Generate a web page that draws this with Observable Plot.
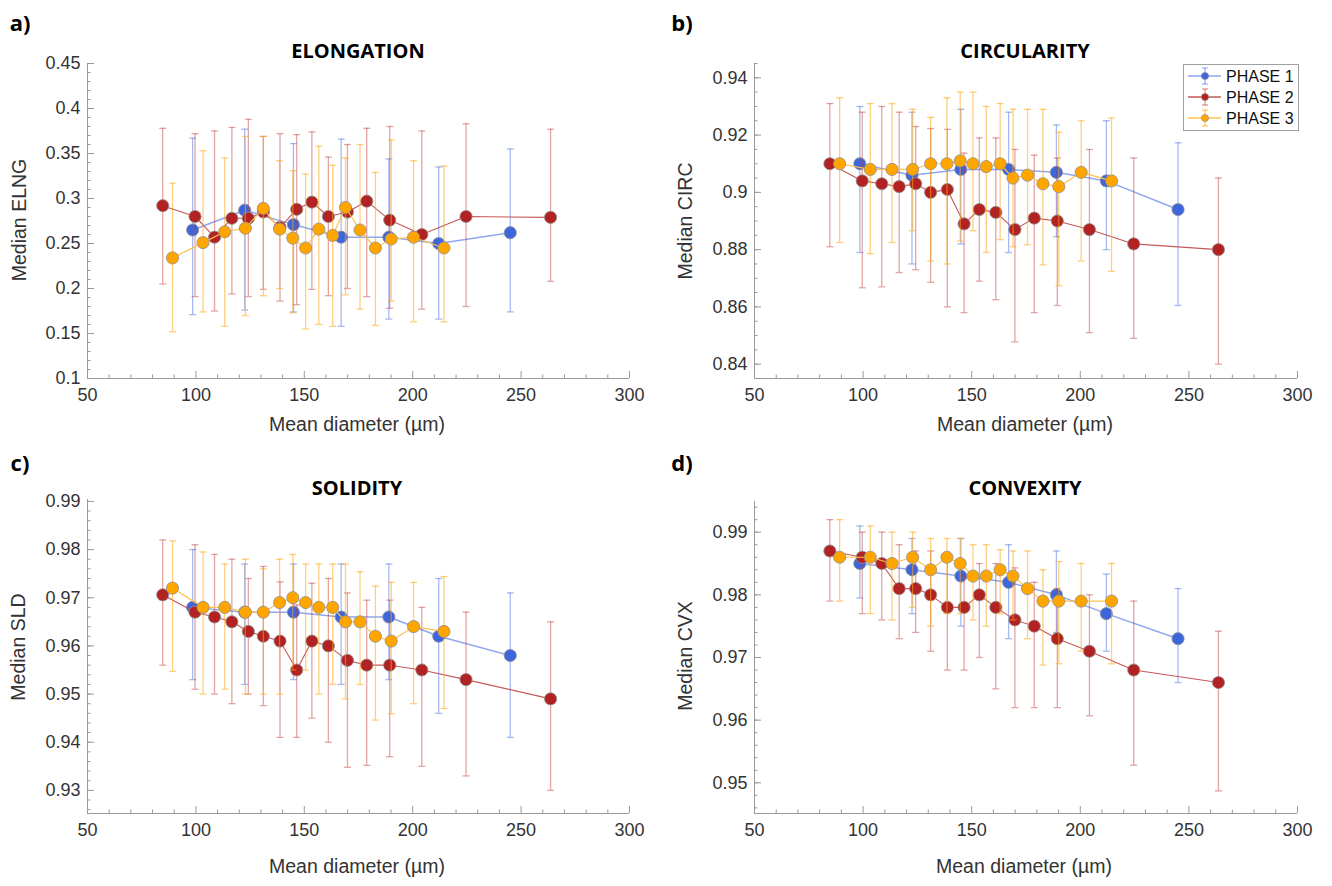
<!DOCTYPE html>
<html><head><meta charset="utf-8">
<script src="https://cdn.jsdelivr.net/npm/d3@7"></script>
<script src="https://cdn.jsdelivr.net/npm/@observablehq/plot@0.6"></script>
<style>
body{margin:0;background:#fff;}
#root{position:relative;width:1332px;height:886px;overflow:hidden;font-family:"Liberation Sans",Arial,sans-serif;}
.abs{position:absolute;white-space:nowrap;transform:translate(-50%,-50%);line-height:1;}
.letter{font-family:"Open Sans",sans-serif;font-weight:700;font-size:22px;color:#000;}
.title{font-family:"Open Sans",sans-serif;font-weight:700;font-size:20px;color:#000;}
.xlab{font-size:19.5px;color:#333;}
.ylab{font-size:19.5px;color:#333;transform:translate(-50%,-50%) rotate(-90deg);}
.panel{position:absolute;}
</style></head><body><div id="root"></div>
<script>
// ---------- data ----------
const phases = ["PHASE 1", "PHASE 2", "PHASE 3"];
const xPhase1 = [98.5, 122.5, 145, 167, 189, 212, 245];
const xPhase2 = [84.7, 99.6, 108.6, 116.6, 124.2, 131.1, 138.8, 146.5, 153.5, 161.1, 169.9, 178.8, 189.4, 204.2, 224.6, 263.6];
const xPhase3 = [89.2, 103.3, 113.3, 122.8, 131.1, 138.6, 144.7, 150.6, 156.7, 163.1, 169.0, 175.7, 182.8, 190.1, 200.4, 214.4];

// ELONGATION
const elng1 = [0.265, 0.287, 0.271, 0.257, 0.257, 0.250, 0.262];
const elng1Lo = [0.171, 0.176, 0.174, 0.158, 0.166, 0.166, 0.174];
const elng1Hi = [0.367, 0.377, 0.361, 0.366, 0.344, 0.335, 0.355];
const elng2 = [0.292, 0.280, 0.257, 0.278, 0.278, 0.285, 0.268, 0.288, 0.296, 0.280, 0.285, 0.297, 0.276, 0.260, 0.280, 0.279];
const elng2Lo = [0.205, 0.191, 0.175, 0.194, 0.191, 0.199, 0.186, 0.182, 0.199, 0.192, 0.200, 0.191, 0.178, 0.177, 0.180, 0.208];
const elng2Hi = [0.378, 0.372, 0.375, 0.379, 0.388, 0.369, 0.372, 0.371, 0.374, 0.346, 0.360, 0.378, 0.380, 0.375, 0.383, 0.377];
const elng3 = [0.234, 0.251, 0.263, 0.267, 0.289, 0.266, 0.256, 0.245, 0.266, 0.259, 0.290, 0.265, 0.245, 0.255, 0.257, 0.245];
const elng3Lo = [0.152, 0.174, 0.158, 0.170, 0.192, 0.200, 0.173, 0.155, 0.160, 0.158, 0.193, 0.177, 0.159, 0.186, 0.163, 0.163];
const elng3Hi = [0.317, 0.353, 0.345, 0.369, 0.369, 0.342, 0.331, 0.327, 0.358, 0.337, 0.345, 0.360, 0.329, 0.365, 0.342, 0.336];

// CIRCULARITY
const circ1 = [0.910, 0.906, 0.908, 0.908, 0.907, 0.904, 0.894];
const circ1Lo = [0.879, 0.875, 0.882, 0.879, 0.8845, 0.880, 0.8605];
const circ1Hi = [0.930, 0.928, 0.929, 0.928, 0.9235, 0.925, 0.9173];
const circ2 = [0.910, 0.904, 0.903, 0.902, 0.903, 0.900, 0.901, 0.889, 0.894, 0.893, 0.887, 0.891, 0.890, 0.887, 0.882, 0.880];
const circ2Lo = [0.881, 0.8667, 0.867, 0.872, 0.873, 0.8686, 0.860, 0.858, 0.869, 0.8625, 0.8478, 0.858, 0.8605, 0.851, 0.849, 0.840];
const circ2Hi = [0.931, 0.928, 0.930, 0.928, 0.923, 0.9223, 0.922, 0.9137, 0.919, 0.919, 0.915, 0.913, 0.912, 0.915, 0.912, 0.905];
const circ3 = [0.910, 0.908, 0.908, 0.908, 0.910, 0.910, 0.911, 0.910, 0.909, 0.910, 0.905, 0.906, 0.903, 0.902, 0.907, 0.904];
const circ3Lo = [0.8825, 0.8786, 0.8825, 0.8866, 0.876, 0.875, 0.883, 0.8866, 0.879, 0.8835, 0.881, 0.8817, 0.8747, 0.8674, 0.876, 0.8724];
const circ3Hi = [0.933, 0.931, 0.931, 0.929, 0.9262, 0.933, 0.935, 0.935, 0.930, 0.931, 0.929, 0.929, 0.929, 0.921, 0.925, 0.926];

// SOLIDITY
const sld1 = [0.968, 0.967, 0.967, 0.966, 0.966, 0.962, 0.958];
const sld1Lo = [0.953, 0.952, 0.953, 0.952, 0.953, 0.946, 0.941];
const sld1Hi = [0.980, 0.977, 0.977, 0.977, 0.977, 0.974, 0.971];
const sld2 = [0.9706, 0.967, 0.966, 0.965, 0.963, 0.962, 0.961, 0.955, 0.961, 0.960, 0.957, 0.956, 0.956, 0.955, 0.953, 0.949];
const sld2Lo = [0.956, 0.951, 0.950, 0.948, 0.950, 0.9476, 0.941, 0.941, 0.945, 0.940, 0.9348, 0.9352, 0.937, 0.935, 0.933, 0.930];
const sld2Hi = [0.982, 0.981, 0.979, 0.978, 0.974, 0.9765, 0.9733, 0.9685, 0.973, 0.974, 0.971, 0.9695, 0.9695, 0.968, 0.967, 0.965];
const sld3 = [0.972, 0.968, 0.968, 0.967, 0.967, 0.969, 0.970, 0.969, 0.968, 0.968, 0.965, 0.965, 0.962, 0.961, 0.964, 0.963];
const sld3Lo = [0.9547, 0.950, 0.951, 0.950, 0.950, 0.950, 0.955, 0.955, 0.950, 0.952, 0.949, 0.952, 0.9446, 0.9459, 0.948, 0.947];
const sld3Hi = [0.9818, 0.9795, 0.977, 0.978, 0.976, 0.978, 0.979, 0.977, 0.977, 0.977, 0.977, 0.9754, 0.9724, 0.9732, 0.9732, 0.9744];

// CONVEXITY
const cvx1 = [0.985, 0.984, 0.983, 0.982, 0.980, 0.977, 0.973];
const cvx1Lo = [0.9795, 0.977, 0.975, 0.973, 0.974, 0.971, 0.966];
const cvx1Hi = [0.991, 0.989, 0.989, 0.988, 0.987, 0.9833, 0.981];
const cvx2 = [0.987, 0.986, 0.985, 0.981, 0.981, 0.980, 0.978, 0.978, 0.980, 0.978, 0.976, 0.975, 0.973, 0.971, 0.968, 0.966];
const cvx2Lo = [0.979, 0.977, 0.976, 0.973, 0.974, 0.971, 0.968, 0.968, 0.970, 0.965, 0.962, 0.962, 0.962, 0.9607, 0.9528, 0.9487];
const cvx2Hi = [0.992, 0.990, 0.990, 0.988, 0.987, 0.987, 0.986, 0.983, 0.985, 0.985, 0.9843, 0.982, 0.981, 0.980, 0.979, 0.9742];
const cvx3 = [0.986, 0.986, 0.985, 0.986, 0.984, 0.986, 0.985, 0.983, 0.983, 0.984, 0.983, 0.981, 0.979, 0.979, 0.979, 0.979];
const cvx3Lo = [0.979, 0.977, 0.976, 0.978, 0.975, 0.977, 0.977, 0.976, 0.975, 0.977, 0.976, 0.973, 0.9688, 0.969, 0.971, 0.969];
const cvx3Hi = [0.992, 0.991, 0.990, 0.990, 0.989, 0.989, 0.989, 0.988, 0.988, 0.9872, 0.987, 0.987, 0.984, 0.9853, 0.985, 0.985];

// tick labels
const xTicks = [50, 100, 150, 200, 250, 300];
const elngTicks = [0.1, 0.15, 0.2, 0.25, 0.3, 0.35, 0.4, 0.45];
const circTicks = [0.84, 0.86, 0.88, 0.9, 0.92, 0.94];
const sldTicks = [0.93, 0.94, 0.95, 0.96, 0.97, 0.98, 0.99];
const cvxTicks = [0.95, 0.96, 0.97, 0.98, 0.99];

// ---------- styling ----------
const styles = [
  {dot: "#3e66dc", line: "#8ea7ee", lineW: 1.5, bar: "#4f78e6", barOp: 0.5},
  {dot: "#b22222", line: "#c45858", lineW: 1.1, bar: "#c03636", barOp: 0.45},
  {dot: "#ffa500", line: "#ffc24d", lineW: 1.2, bar: "#ffa616", barOp: 0.55}
];
const axisColor = "#9a9a9a";
const capSymbol = {draw(ctx, size) { const r = Math.sqrt(size / Math.PI); ctx.moveTo(-r, 0); ctx.lineTo(r, 0); }};
const fmt = d => String(+d.toFixed(3));
const range = (a, b, step) => d3.range(Math.round(a / step), Math.round(b / step) + 1).map(i => +(i * step).toFixed(4));

function rowsOf(xs, med, lo, hi, phase) {
  return xs.map((x, i) => ({phase, x, y: med[i], lo: lo[i], hi: hi[i]}));
}

const panels = [
  {key: "a", title: "ELONGATION", ylabel: "Median ELNG", left: 0, top: 0, width: 660, height: 440,
   mL: 87, mR: 31, mT: 63, mB: 62, yDomain: [0.1, 0.45], yTicks: elngTicks, yMinor: range(0.1, 0.45, 0.01),
   series: [[xPhase1, elng1, elng1Lo, elng1Hi], [xPhase2, elng2, elng2Lo, elng2Hi], [xPhase3, elng3, elng3Lo, elng3Hi]],
   letterPos: [20, 22], titlePos: [358, 51], xlabPos: [357, 425], ylabPos: [20, 220]},
  {key: "b", title: "CIRCULARITY", ylabel: "Median CIRC", left: 660, top: 0, width: 672, height: 440,
   mL: 94, mR: 35, mT: 63, mB: 62, yDomain: [0.835, 0.945], yTicks: circTicks, yMinor: range(0.84, 0.945, 0.005),
   series: [[xPhase1, circ1, circ1Lo, circ1Hi], [xPhase2, circ2, circ2Lo, circ2Hi], [xPhase3, circ3, circ3Lo, circ3Hi]],
   letterPos: [682, 22], titlePos: [1025, 51], xlabPos: [1025, 425], ylabPos: [686, 221]},
  {key: "c", title: "SOLIDITY", ylabel: "Median SLD", left: 0, top: 440, width: 660, height: 446,
   mL: 87, mR: 31, mT: 59, mB: 73, yDomain: [0.9252, 0.9904], yTicks: sldTicks, yMinor: range(0.926, 0.99, 0.002),
   series: [[xPhase1, sld1, sld1Lo, sld1Hi], [xPhase2, sld2, sld2Lo, sld2Hi], [xPhase3, sld3, sld3Lo, sld3Hi]],
   letterPos: [20, 462], titlePos: [357, 488], xlabPos: [357, 867], ylabPos: [19, 647]},
  {key: "d", title: "CONVEXITY", ylabel: "Median CVX", left: 660, top: 440, width: 672, height: 446,
   mL: 94, mR: 35, mT: 61, mB: 73, yDomain: [0.9451, 0.9949], yTicks: cvxTicks, yMinor: range(0.946, 0.994, 0.002),
   series: [[xPhase1, cvx1, cvx1Lo, cvx1Hi], [xPhase2, cvx2, cvx2Lo, cvx2Hi], [xPhase3, cvx3, cvx3Lo, cvx3Hi]],
   letterPos: [682, 462], titlePos: [1025, 488], xlabPos: [1024, 867], ylabPos: [686, 656]}
];

const root = document.getElementById("root");
const xMinor = d3.range(60, 300, 10).filter(v => v % 50 !== 0);

function addText(cls, text, [x, y]) {
  const d = document.createElement("div");
  d.className = "abs " + cls;
  d.style.left = x + "px";
  d.style.top = y + "px";
  d.textContent = text;
  root.appendChild(d);
}

for (const p of panels) {
  const marks = [
    Plot.ruleX([50], {stroke: axisColor}),
    Plot.ruleY([p.yDomain[0]], {stroke: axisColor}),
    Plot.axisX(xMinor, {tickSize: -3.5, fill: "none", stroke: axisColor}),
    Plot.axisX(xTicks, {tickSize: -7, fill: "none", stroke: axisColor}),
    Plot.axisX(xTicks, {tickSize: 0, tickPadding: 10, fill: "#333", fontSize: 18, label: null, tickFormat: d => String(d)}),
    Plot.axisY(p.yMinor, {tickSize: -3.5, fill: "none", stroke: axisColor}),
    Plot.axisY(p.yTicks, {tickSize: -7, fill: "none", stroke: axisColor}),
    Plot.axisY(p.yTicks, {tickSize: 0, tickPadding: 7, fill: "#333", fontSize: 18, label: null, tickFormat: fmt})
  ];
  p.series.forEach(([xs, med, lo, hi], k) => {
    const s = styles[k];
    const rows = rowsOf(xs, med, lo, hi, phases[k]);
    marks.push(
      Plot.ruleX(rows, {x: "x", y1: "lo", y2: "hi", stroke: s.bar, strokeOpacity: s.barOp, strokeWidth: 1.3}),
      Plot.dot(rows, {x: "x", y: "lo", symbol: capSymbol, r: 3.5, fill: "none", stroke: s.bar, strokeOpacity: s.barOp, strokeWidth: 1.3}),
      Plot.dot(rows, {x: "x", y: "hi", symbol: capSymbol, r: 3.5, fill: "none", stroke: s.bar, strokeOpacity: s.barOp, strokeWidth: 1.3}),
      Plot.line(rows, {x: "x", y: "y", stroke: s.line, strokeWidth: s.lineW}),
      Plot.dot(rows, {x: "x", y: "y", r: 6.1, fill: s.dot, stroke: "#8f8f8f", strokeWidth: 0.8})
    );
  });
  const svg = Plot.plot({
    width: p.width, height: p.height,
    marginLeft: p.mL, marginRight: p.mR, marginTop: p.mT, marginBottom: p.mB,
    x: {domain: [50, 300]},
    y: {domain: p.yDomain},
    style: {fontFamily: "Liberation Sans, Arial, sans-serif", fontSize: "18px", color: "#333", background: "transparent", overflow: "visible"},
    marks
  });
  svg.classList.add("panel");
  svg.style.left = p.left + "px";
  svg.style.top = p.top + "px";
  root.appendChild(svg);
  addText("letter", p.key + ")", p.letterPos);
  addText("title", p.title, p.titlePos);
  addText("xlab", "Mean diameter (µm)", p.xlabPos);
  addText("ylab", p.ylabel, p.ylabPos);
}

// legend (panel b)
const legend = document.createElementNS("http://www.w3.org/2000/svg", "svg");
legend.setAttribute("width", 116);
legend.setAttribute("height", 67);
legend.style.position = "absolute";
legend.style.left = "1183px";
legend.style.top = "64px";
let html = `<rect x="0.5" y="0.5" width="115" height="66" fill="#fff" stroke="#a0a0a0"/>`;
phases.forEach((name, k) => {
  const s = styles[k];
  const cy = 12 + k * 21;
  html += `<line x1="5" x2="38" y1="${cy}" y2="${cy}" stroke="${s.line}" stroke-width="1.3"/>`;
  html += `<g stroke="${s.bar}" stroke-opacity="${s.barOp + 0.1}" stroke-width="1.2">
    <line x1="22" x2="22" y1="${cy - 8}" y2="${cy + 8}"/>
    <line x1="19" x2="25" y1="${cy - 8}" y2="${cy - 8}"/>
    <line x1="19" x2="25" y1="${cy + 8}" y2="${cy + 8}"/></g>`;
  html += `<circle cx="22" cy="${cy}" r="3.6" fill="${s.dot}" stroke="#8f8f8f" stroke-width="0.6"/>`;
  html += `<text x="43" y="${cy}" dy="0.35em" font-family="Liberation Sans, Arial, sans-serif" font-size="16" fill="#111">${name}</text>`;
});
legend.innerHTML = html;
root.appendChild(legend);
</script>
</body></html>
